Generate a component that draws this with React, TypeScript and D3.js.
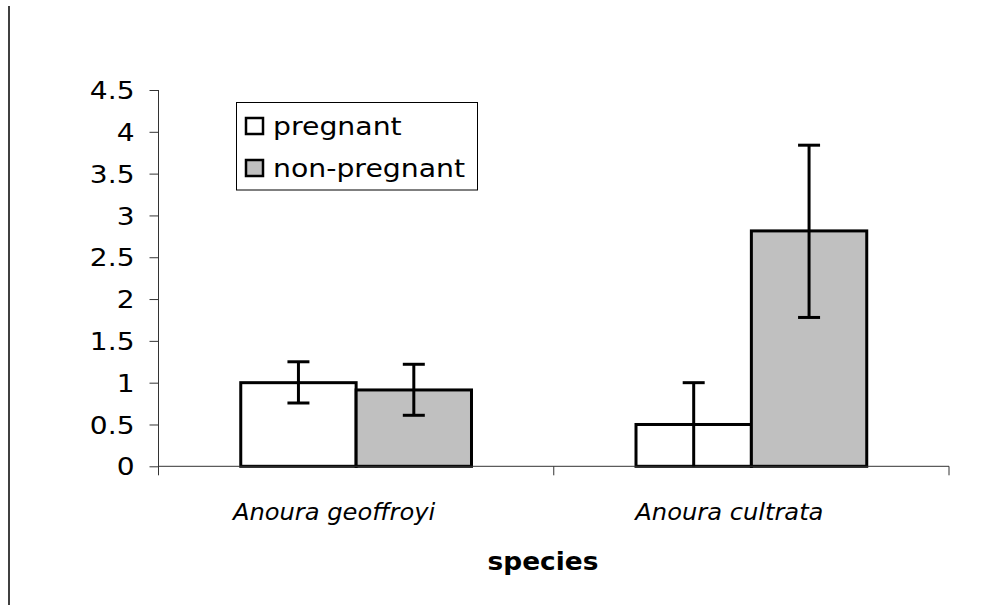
import React, { useRef, useEffect } from 'react'
import * as d3 from 'd3'

const species = ['Anoura geoffroyi', 'Anoura cultrata']
const groups = ['pregnant', 'non-pregnant']
const pregnantMean = [1.0, 0.5]
const pregnantLow = [0.757, 0.0]
const pregnantHigh = [1.25, 1.0]
const nonPregnantMean = [0.913, 2.815]
const nonPregnantLow = [0.61, 1.78]
const nonPregnantHigh = [1.22, 3.84]
const yTicks = [0, 0.5, 1, 1.5, 2, 2.5, 3, 3.5, 4, 4.5]
const colors = ['#ffffff', '#c0c0c0']

const App = () => {
  const svgRef = useRef<SVGSVGElement>(null)

  useEffect(() => {
    const svg = d3.select(svgRef.current)
    svg.selectAll('*').remove()
    const font = 'Verdana, "DejaVu Sans", sans-serif'

    const left = 158.5, right = 949, top = 90, bottom = 466.3

    const x = d3.scaleBand().domain(species).range([left, right])
    const sub = d3.scaleBand().domain(groups).range([0, x.bandwidth()]).paddingInner(0).paddingOuter(0.713)
    const y = d3.scaleLinear().domain([0, 4.5]).range([bottom, top])

    // left frame line
    svg.append('line')
      .attr('x1', 9).attr('x2', 9).attr('y1', 6).attr('y2', 605)
      .attr('stroke', '#000').attr('stroke-width', 1.5)

    const rows = species.map((s, i) => [
      { s, g: 'pregnant', v: pregnantMean[i], lo: pregnantLow[i], hi: pregnantHigh[i], c: colors[0] },
      { s, g: 'non-pregnant', v: nonPregnantMean[i], lo: nonPregnantLow[i], hi: nonPregnantHigh[i], c: colors[1] },
    ]).flat()

    // bars
    svg.selectAll('.bar')
      .data(rows)
      .enter().append('rect')
      .attr('x', d => x(d.s)! + sub(d.g)!)
      .attr('y', d => y(d.v))
      .attr('width', sub.bandwidth())
      .attr('height', d => y(0) - y(d.v))
      .attr('fill', d => d.c)
      .attr('stroke', '#000')
      .attr('stroke-width', 3)

    // axes
    const yAxis = svg.append('g')
      .attr('transform', `translate(${left},0)`)
      .call(d3.axisLeft(y).tickValues(yTicks).tickSize(9).tickPadding(15).tickFormat(d => String(d)))
    yAxis.select('.domain').attr('stroke', '#333').attr('d', `M-0,${top}H0V${bottom + 9}`)
    yAxis.selectAll('.tick line').attr('stroke', '#333')
    yAxis.selectAll('text')
      .attr('font-family', font).attr('font-size', 24).attr('fill', '#000').attr('dy', '0.36em')
      .attr('x', 0).attr('transform', 'translate(-24,0) scale(1.17,1)')

    const xAxis = svg.append('g').attr('transform', `translate(0,${bottom})`)
    xAxis.append('line').attr('x1', left).attr('x2', right).attr('stroke', '#333')
    const bounds = species.map(s => x(s)! + x.bandwidth())
    xAxis.selectAll('.xt').data(bounds).enter().append('line')
      .attr('x1', d => d).attr('x2', d => d).attr('y1', 0).attr('y2', 9).attr('stroke', '#333')

    // error bars
    const eb = svg.selectAll('.err').data(rows).enter().append('g')
    const cx = (d: any) => x(d.s)! + sub(d.g)! + sub.bandwidth() / 2
    eb.append('line')
      .attr('x1', cx).attr('x2', cx).attr('y1', d => y(d.lo)).attr('y2', d => y(d.hi))
      .attr('stroke', '#000').attr('stroke-width', 3)
    eb.append('line')
      .attr('x1', d => cx(d) - 11).attr('x2', d => cx(d) + 11).attr('y1', d => y(d.hi)).attr('y2', d => y(d.hi))
      .attr('stroke', '#000').attr('stroke-width', 3)
    eb.filter(d => d.lo > 0).append('line')
      .attr('x1', d => cx(d) - 11).attr('x2', d => cx(d) + 11).attr('y1', d => y(d.lo)).attr('y2', d => y(d.lo))
      .attr('stroke', '#000').attr('stroke-width', 3)

    // category labels
    svg.selectAll('.cat').data(species).enter().append('text')
      .attr('transform', d => `translate(${x(d)! + x.bandwidth() / 2 - 22},520) scale(1.05,1)`)
      .attr('text-anchor', 'middle')
      .attr('font-family', font).attr('font-size', 23).attr('font-style', 'italic')
      .text(d => d)

    svg.append('text')
      .attr('transform', 'translate(543,570) scale(1.1,1)')
      .attr('text-anchor', 'middle')
      .attr('font-family', font).attr('font-size', 24).attr('font-weight', 'bold')
      .text('species')

    // legend
    const lg = svg.append('g')
    lg.append('rect').attr('x', 236.5).attr('y', 102.5).attr('width', 241).attr('height', 87.5)
      .attr('fill', '#fff').attr('stroke', '#000').attr('stroke-width', 1)
    groups.forEach((g, i) => {
      lg.append('rect').attr('x', 246).attr('y', 118 + i * 42).attr('width', 17).attr('height', 16)
        .attr('fill', colors[i]).attr('stroke', '#000').attr('stroke-width', 2.5)
      lg.append('text').attr('transform', `translate(273,${135 + i * 42}) scale(1.18,1)`)
        .attr('font-family', font).attr('font-size', 24)
        .text(g)
    })
  }, [])

  return (
    <svg ref={svgRef} width={989} height={610} style={{ position: 'absolute', left: 0, top: 0 }}></svg>
  )
}

export default App
